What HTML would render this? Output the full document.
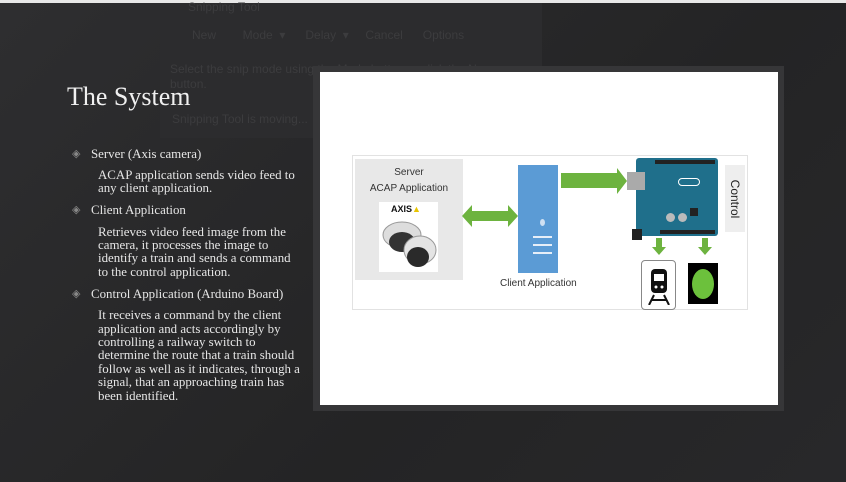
<!DOCTYPE html>
<html><head><meta charset="utf-8"><style>
html,body{margin:0;padding:0}
body{width:846px;height:482px;position:relative;overflow:hidden;background:#262627;font-family:"Liberation Serif",serif;}
.abs{position:absolute}
.t{position:absolute;color:#e6e6e6;font-size:12.9px;white-space:nowrap;line-height:13.5px}
.ov{position:absolute;color:#3c3c3e;font-family:"Liberation Sans",sans-serif;font-size:12px;white-space:nowrap}
.dia{font-family:"Liberation Sans",sans-serif;color:#333;font-size:10px;position:absolute;white-space:nowrap}
</style></head><body>
<div class="abs" style="left:0;top:0;width:846px;height:3px;background:#e8e8e8"></div>
<div class="abs" style="left:0;top:3px;width:846px;height:479px;background:linear-gradient(135deg,#2e2e30,#242425 60%,#28282a)"></div>
<div class="abs" style="left:160px;top:3px;width:382px;height:135px;background:#2c2c2e"></div>
<div class="ov" style="left:188px;top:0px">Snipping Tool</div>
<div class="ov" style="left:192px;top:28px">New &nbsp;&nbsp;&nbsp;&nbsp;&nbsp;&nbsp; Mode &nbsp;▾ &nbsp;&nbsp;&nbsp;&nbsp; Delay &nbsp;▾ &nbsp;&nbsp;&nbsp; Cancel &nbsp;&nbsp;&nbsp;&nbsp; Options</div>
<div class="ov" style="left:170px;top:62px">Select the snip mode using the Mode button or click the New</div>
<div class="ov" style="left:170px;top:77px">button.</div>
<div class="ov" style="left:172px;top:112px">Snipping Tool is moving...</div>

<div class="t" style="left:67px;top:83px;font-size:26px;line-height:28px;color:#f0f0f0">The System</div>

<div class="t" style="left:72px;top:148px;color:#888;font-size:11px">◈</div><div class="t" style="left:91px;top:148px">Server (Axis camera)</div>
<div class="t" style="left:98px;top:169px">ACAP application sends video feed to</div>
<div class="t" style="left:98px;top:182px">any client application.</div>
<div class="t" style="left:72px;top:204px;color:#888;font-size:11px">◈</div><div class="t" style="left:91px;top:204px">Client Application</div>
<div class="t" style="left:98px;top:226px">Retrieves video feed image from the</div>
<div class="t" style="left:98px;top:239px">camera, it processes the image to</div>
<div class="t" style="left:98px;top:252px">identify a train and sends a command</div>
<div class="t" style="left:98px;top:266px">to the control application.</div>
<div class="t" style="left:72px;top:288px;color:#888;font-size:11px">◈</div><div class="t" style="left:91px;top:288px">Control Application (Arduino Board)</div>
<div class="t" style="left:98px;top:309px">It receives a command by the client</div>
<div class="t" style="left:98px;top:323px">application and acts accordingly by</div>
<div class="t" style="left:98px;top:336px">controlling a railway switch to</div>
<div class="t" style="left:98px;top:349px">determine the route that a train should</div>
<div class="t" style="left:98px;top:363px">follow as well as it indicates, through a</div>
<div class="t" style="left:98px;top:376px">signal, that an approaching train has</div>
<div class="t" style="left:98px;top:390px">been identified.</div>

<div class="abs" style="left:313px;top:66px;width:471px;height:345px;background:#363638"></div>
<div class="abs" style="left:320px;top:72px;width:458px;height:333px;background:#fff"></div>
<div class="abs" style="left:352px;top:155px;width:396px;height:155px;border:1px solid #e2e2e2;box-sizing:border-box"></div>
<div class="abs" style="left:355px;top:159px;width:108px;height:121px;background:#e8e8e8"></div>
<div class="dia" style="left:355px;top:167px;width:108px;text-align:center">Server</div>
<div class="dia" style="left:355px;top:183px;width:108px;text-align:center">ACAP Application</div>
<div class="abs" style="left:379px;top:202px;width:59px;height:70px;background:#fff"></div>
<div class="abs" style="left:391px;top:204px;font:bold 9px 'Liberation Sans',sans-serif;color:#111">AXIS<span style="color:#e8c400">▲</span></div>
<svg class="abs" style="left:380px;top:215px" width="58" height="57">
<ellipse cx="22" cy="20" rx="19" ry="13" fill="#ddd" stroke="#999"/>
<ellipse cx="22" cy="27" rx="13" ry="10" fill="#333"/>
<ellipse cx="40" cy="35" rx="16" ry="14" fill="#e4e4e4" stroke="#999"/>
<ellipse cx="38" cy="42" rx="11" ry="10" fill="#2a2a2a"/>
</svg>
<svg class="abs" style="left:462px;top:203px" width="58" height="26"><polygon points="0,13 10,2 10,8 46,8 46,2 56,13 46,24 46,18 10,18 10,24" fill="#6db33f"/></svg>
<div class="abs" style="left:518px;top:165px;width:40px;height:108px;background:#5b9bd5"></div>
<div class="abs" style="left:540px;top:219px;width:5px;height:7px;border-radius:50%;background:#cfe0f2"></div>
<div class="abs" style="left:533px;top:236px;width:19px;height:2px;background:#e6eef8"></div>
<div class="abs" style="left:533px;top:244px;width:19px;height:2px;background:#e6eef8"></div>
<div class="abs" style="left:533px;top:252px;width:19px;height:2px;background:#e6eef8"></div>
<div class="dia" style="left:500px;top:278px">Client Application</div>
<svg class="abs" style="left:561px;top:168px" width="68" height="26"><polygon points="0,5 56,5 56,0 66,13 56,26 56,20 0,20" fill="#6db33f"/></svg>
<div class="abs" style="left:636px;top:158px;width:82px;height:78px;background:#1f6f8b;border-radius:3px"></div>
<div class="abs" style="left:627px;top:172px;width:18px;height:18px;background:#aaa"></div>
<div class="abs" style="left:632px;top:229px;width:10px;height:11px;background:#222"></div>
<div class="abs" style="left:655px;top:160px;width:60px;height:4px;background:#222"></div>
<div class="abs" style="left:660px;top:230px;width:55px;height:4px;background:#222"></div>
<div class="abs" style="left:678px;top:178px;width:22px;height:8px;border:1px solid #fff;border-radius:4px;box-sizing:border-box"></div>
<div class="abs" style="left:690px;top:208px;width:8px;height:8px;background:#222"></div>
<div class="abs" style="left:666px;top:213px;width:9px;height:9px;border-radius:50%;background:#bbb"></div>
<div class="abs" style="left:678px;top:213px;width:9px;height:9px;border-radius:50%;background:#bbb"></div>
<div class="abs" style="left:725px;top:165px;width:20px;height:67px;background:#eee"></div>
<div class="dia" style="left:711px;top:192px;font-size:12px;color:#222;transform:rotate(90deg);transform-origin:center;width:48px;text-align:center">Control</div>
<svg class="abs" style="left:652px;top:238px" width="14" height="17"><polygon points="4,0 10,0 10,9 14,9 7,17 0,9 4,9" fill="#6db33f"/></svg>
<svg class="abs" style="left:698px;top:238px" width="14" height="17"><polygon points="4,0 10,0 10,9 14,9 7,17 0,9 4,9" fill="#6db33f"/></svg>
<div class="abs" style="left:641px;top:260px;width:35px;height:50px;border:1px solid #888;border-radius:4px;box-sizing:border-box;background:#fff"></div>
<svg class="abs" style="left:648px;top:265px" width="22" height="40"><rect x="3" y="4" width="16" height="24" rx="4" fill="#111"/><rect x="6" y="9" width="10" height="7" fill="#fff"/><circle cx="8" cy="22" r="1.5" fill="#fff"/><circle cx="14" cy="22" r="1.5" fill="#fff"/><path d="M6 30 L1 40 M16 30 L21 40 M4 35 H18" stroke="#111" stroke-width="2"/></svg>
<div class="abs" style="left:688px;top:263px;width:30px;height:41px;background:#000"></div>
<div class="abs" style="left:692px;top:269px;width:22px;height:30px;border-radius:50%;background:#6cc13c"></div>
</body></html>
